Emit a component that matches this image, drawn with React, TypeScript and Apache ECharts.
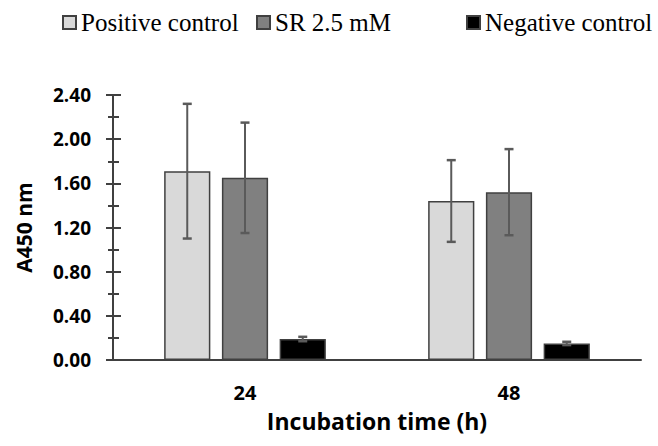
import React, { useEffect, useRef } from "react";
import * as echarts from "echarts";

const categories = ["24", "48"];
const seriesNames = ["Positive control", "SR 2.5 mM", "Negative control"];
const positiveMeans = [1.71, 1.44];
const positiveErrs = [0.61, 0.37];
const srMeans = [1.65, 1.52];
const srErrs = [0.5, 0.39];
const negativeMeans = [0.19, 0.15];
const negativeErrs = [0.02, 0.015];
const yTicks = [0, 0.4, 0.8, 1.2, 1.6, 2.0, 2.4];

const fills = ["#d9d9d9", "#808080", "#000000"];
const BAR_FRAC = 0.175;
const BAR_GAP = 0.25;

export default function App() {
  const ref = useRef<HTMLDivElement>(null);
  useEffect(() => {
    if (!ref.current) return;
    const chart = echarts.init(ref.current, null, { renderer: "svg" });
    const means = [positiveMeans, srMeans, negativeMeans];
    const errs = [positiveErrs, srErrs, negativeErrs];

    const barSeries = seriesNames.map((name, i) => ({
      name,
      type: "bar",
      data: means[i],
      barWidth: BAR_FRAC * 100 + "%",
      barGap: BAR_GAP * 100 + "%",
      itemStyle: { color: fills[i], borderColor: "#404040", borderWidth: 1.5 },
    }));

    const errSeries = seriesNames.map((name, i) => ({
      name: name + " err",
      type: "custom",
      data: means[i].map((m, k) => [k, m - errs[i][k], m + errs[i][k]]),
      encode: { x: 0, y: [1, 2] },
      z: 10,
      renderItem: (params: any, api: any) => {
        const band = api.size([1, 0])[0];
        const off = (i - 1) * band * BAR_FRAC * (1 + BAR_GAP);
        const lo = api.coord([api.value(0), api.value(1)]);
        const hi = api.coord([api.value(0), api.value(2)]);
        const x = lo[0] + off;
        const hw = 4.5;
        const st = { stroke: "#5a5a5a", lineWidth: 2 };
        return {
          type: "group",
          children: [
            { type: "line", shape: { x1: x, y1: lo[1], x2: x, y2: hi[1] }, style: st },
            { type: "line", shape: { x1: x - hw, y1: lo[1], x2: x + hw, y2: lo[1] }, style: { ...st, lineWidth: 2.5 } },
            { type: "line", shape: { x1: x - hw, y1: hi[1], x2: x + hw, y2: hi[1] }, style: { ...st, lineWidth: 2.5 } },
          ],
        };
      },
    }));

    const legendLefts = [62, 256, 466];
    const yMin = yTicks[0];
    const yMax = yTicks[yTicks.length - 1];
    const yInt = yTicks[1] - yTicks[0];
    const axisColor = "#404040";

    const baseY = {
      type: "value",
      min: yMin,
      max: yMax,
      interval: yInt,
      position: "left",
      splitLine: { show: false },
      axisLine: { show: true, lineStyle: { color: axisColor, width: 2 } },
    };

    chart.setOption({
      animation: false,
      legend: seriesNames.map((n, i) => ({
        data: [n],
        left: legendLefts[i],
        top: 10,
        padding: 0,
        icon: "rect",
        itemWidth: 13,
        itemHeight: 13,
        selectedMode: false,
        textStyle: { fontFamily: "Liberation Serif", fontSize: 25, color: "#000" },
      })),
      grid: { left: 113, right: 17, top: 95, bottom: 86, outerBoundsMode: "none", containLabel: false },
      xAxis: {
        type: "category",
        data: categories,
        name: "Incubation time (h)",
        nameLocation: "middle",
        nameGap: 49,
        nameTextStyle: { fontFamily: "Open Sans", fontWeight: "bold", fontSize: 23, color: "#000" },
        axisLine: { lineStyle: { color: axisColor, width: 2 } },
        axisTick: { show: false },
        axisLabel: { margin: 22, fontFamily: "Open Sans", fontWeight: "bold", fontSize: 20, color: "#000" },
      },
      yAxis: [
        {
          ...baseY,
          name: "A450 nm",
          nameLocation: "middle",
          nameGap: 79,
          nameTextStyle: { fontFamily: "Open Sans", fontWeight: "bold", fontSize: 21, color: "#000" },
          axisTick: { show: true, length: 7, lineStyle: { color: axisColor, width: 2 } },
          minorTick: { show: true, splitNumber: 2, length: 5, lineStyle: { color: axisColor, width: 2 } },
          minorSplitLine: { show: false },
          axisLabel: {
            margin: 22,
            fontFamily: "Open Sans",
            fontWeight: "bold",
            fontSize: 19,
            color: "#000",
            formatter: (v: number) => v.toFixed(2),
          },
        },
        {
          ...baseY,
          axisTick: { show: true, inside: true, length: 8, lineStyle: { color: axisColor, width: 2 } },
          minorTick: { show: true, splitNumber: 2, length: 6, lineStyle: { color: axisColor, width: 2 } },
          minorSplitLine: { show: false },
          axisLabel: { show: false },
        },
      ],
      series: [...barSeries, ...errSeries],
    });
    return () => chart.dispose();
  }, []);
  return <div ref={ref} style={{ width: 658, height: 446, position: "absolute", left: 0, top: 0 }} />;
}
